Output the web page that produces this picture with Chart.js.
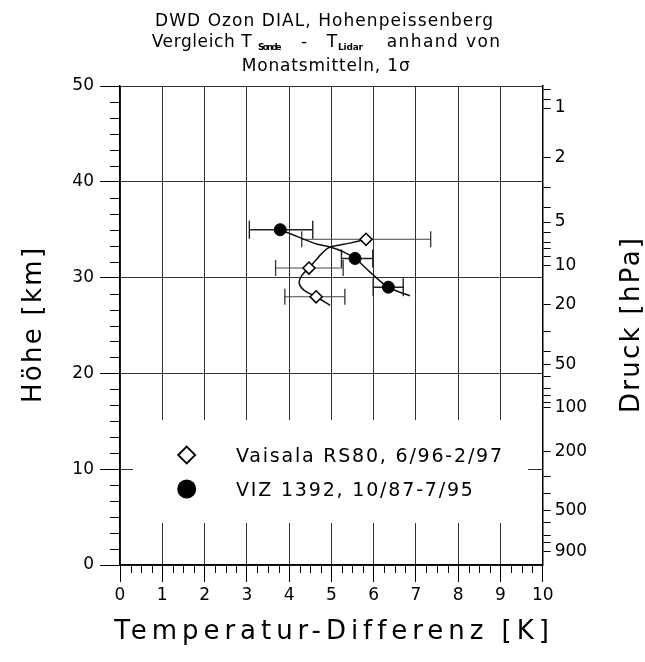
<!DOCTYPE html>
<html><head><meta charset="utf-8">
<script src="https://cdn.jsdelivr.net/npm/chart.js@4.4.1/dist/chart.umd.min.js"></script>
<style>html,body{margin:0;padding:0;background:#fff;}canvas{display:block;}</style>
</head><body>
<canvas id="c" width="645" height="662"></canvas>
<script>
// ---------------- data ----------------
const xTickValues = [0, 1, 2, 3, 4, 5, 6, 7, 8, 9, 10];
const heightTickValues = [0, 10, 20, 30, 40, 50];
const pressureTickLabels = ['1', '2', '5', '10', '20', '50', '100', '200', '500', '900'];
const pressureTickKm = [47.7, 42.5, 35.8, 31.3, 27.2, 20.9, 16.4, 11.8, 5.7, 1.4];
const pressureMinorKm = [49.6, 48.6, 39.4, 37.3, 34.7, 33.7, 33.0, 32.2, 24.4, 22.3, 19.7, 18.4, 17.7, 17.0, 9.2, 7.5, 4.4, 3.1, 2.3];

// Vaisala RS80 (diamonds)
const rs80Height = [34, 31, 28];
const rs80Diff = [5.82, 4.47, 4.64];
const rs80Lo = [4.30, 3.68, 3.90];
const rs80Hi = [7.35, 5.28, 5.32];
// VIZ 1392 (filled circles)
const vizHeight = [35, 32, 29];
const vizDiff = [3.79, 5.56, 6.35];
const vizLo = [3.06, 5.24, 5.99];
const vizHi = [4.56, 5.98, 6.70];

// fitted curves
const rs80CurveX = [5.82, 5.44, 5.13, 4.93, 4.77, 4.61, 4.47, 4.30, 4.24, 4.35, 4.64, 4.97];
const rs80CurveY = [34.0, 33.6, 33.35, 33.1, 32.5, 31.7, 31.0, 30.2, 29.4, 28.7, 28.0, 27.1];
const vizCurveX = [3.79, 4.30, 4.65, 4.97, 5.28, 5.56, 5.91, 6.35, 6.86];
const vizCurveY = [35.0, 34.1, 33.5, 33.2, 32.7, 32.0, 30.6, 29.0, 28.1];

const legendLabels = ['Vaisala RS80, 6/96-2/97', 'VIZ 1392, 10/87-7/95'];
const titleLine1 = 'DWD Ozon DIAL, Hohenpeissenberg';
const titleLine3 = 'Monatsmitteln, 1σ';
const xTitle = 'Temperatur-Differenz [K]';
const yTitle = 'Höhe [km]';
const y2Title = 'Druck [hPa]';

// ---------------- helpers ----------------
const FONT = '"DejaVu Sans", sans-serif';
const hasLS = 'letterSpacing' in CanvasRenderingContext2D.prototype;
function fitText(ctx, text, left, baseline, width, font) {
  ctx.save();
  ctx.font = font;
  if (hasLS) ctx.letterSpacing = '0px';
  const w0 = ctx.measureText(text).width;
  const n = [...text].length;
  if (hasLS && n > 1) ctx.letterSpacing = ((width - w0) / (n - 1)).toFixed(2) + 'px';
  ctx.textAlign = 'left';
  ctx.textBaseline = 'alphabetic';
  ctx.fillStyle = '#000';
  ctx.fillText(text, left, baseline);
  ctx.restore();
}
function fitTextRot(ctx, text, cx, baselineX, width, font) {
  ctx.save();
  ctx.translate(baselineX, cx);
  ctx.rotate(-Math.PI / 2);
  fitText(ctx, text, -width / 2, 0, width, font);
  ctx.restore();
}
function errData(lo, hi, h) {
  const out = [];
  lo.forEach((v, i) => { out.push({x: v, y: h[i]}, {x: hi[i], y: h[i]}, {x: null, y: null}); });
  return out;
}
function curveData(xs, ys) { return xs.map((v, i) => ({x: v, y: ys[i]})); }

const decor = {
  id: 'decor',
  afterDatasetsDraw(chart) {
    const {ctx, chartArea: ca, scales} = chart;
    const xs = scales.x, ys = scales.y;
    ctx.save();
    ctx.strokeStyle = '#000';
    ctx.lineWidth = 1;
    ctx.beginPath();
    for (let k = 1; k < 30; k++) {
      if (k % 6 === 0) continue;
      const py = Math.round(ys.getPixelForValue(k * 5 / 3)) + 0.5;
      ctx.moveTo(ca.left - 10, py); ctx.lineTo(ca.left, py);
    }
    for (let k = 1; k < 40; k++) {
      if (k % 4 === 0) continue;
      const px = Math.round(xs.getPixelForValue(k / 4)) + 0.5;
      ctx.moveTo(px, ca.bottom); ctx.lineTo(px, ca.bottom + 8);
    }
    ctx.stroke();
    // legend box (covers the grid)
    ctx.fillStyle = '#fff';
    ctx.fillRect(133, 420, 395, 103);
    // legend markers
    ctx.lineWidth = 1.8;
    ctx.strokeStyle = '#000';
    ctx.beginPath();
    const dx = 186.7, dy = 455, r = 8.5;
    ctx.moveTo(dx - r, dy); ctx.lineTo(dx, dy - r); ctx.lineTo(dx + r, dy); ctx.lineTo(dx, dy + r); ctx.closePath();
    ctx.fillStyle = '#fff'; ctx.fill(); ctx.stroke();
    ctx.beginPath();
    ctx.arc(186.7, 489, 9.5, 0, Math.PI * 2);
    ctx.fillStyle = '#000'; ctx.fill();
    ctx.restore();
    fitText(ctx, legendLabels[0], 236, 462, 266, '19px ' + FONT);
    fitText(ctx, legendLabels[1], 236, 495.5, 237, '19px ' + FONT);
  },
  afterDraw(chart) {
    const ctx = chart.ctx;
    const f = '17px ' + FONT, fs = 'bold 9px ' + FONT;
    fitText(ctx, titleLine1, 155, 26, 338, f);
    fitText(ctx, 'Vergleich T', 151.7, 46.5, 100, f);
    fitText(ctx, 'Sonde', 258, 50, 23.7, fs);
    fitText(ctx, '-', 301, 46.5, 10, f);
    fitText(ctx, 'T', 326.7, 46.5, 10, f);
    fitText(ctx, 'Lidar', 338, 50, 25, fs);
    fitText(ctx, 'anhand von', 386.7, 46.5, 113.3, f);
    fitText(ctx, titleLine3, 241.7, 71, 168, f);
    const ca = chart.chartArea;
    const cx = (ca.left + ca.right) / 2, cy = (ca.top + ca.bottom) / 2;
    fitText(ctx, xTitle, cx - 217, 639, 434, '26px ' + FONT);
    fitTextRot(ctx, yTitle, cy, 41, 155, '26px ' + FONT);
    fitTextRot(ctx, y2Title, cy, 639, 175, '26px ' + FONT);
  }
};

Chart.defaults.font.family = FONT;
Chart.defaults.color = '#000';

new Chart(document.getElementById('c'), {
  type: 'scatter',
  data: {
    datasets: [
      { label: 'RS80', data: curveData(rs80Diff, rs80Height), pointStyle: 'rectRot', pointRadius: 6,
        pointBackgroundColor: '#fff', pointBorderColor: '#000', pointBorderWidth: 1.6, showLine: false },
      { label: 'VIZ', data: curveData(vizDiff, vizHeight), pointStyle: 'circle', pointRadius: 6,
        pointBackgroundColor: '#000', pointBorderColor: '#000', pointBorderWidth: 1, showLine: false },
      { label: 'RS80 fit', data: curveData(rs80CurveX, rs80CurveY), showLine: true, tension: 0.4,
        pointRadius: 0, borderColor: '#111', borderWidth: 1.5 },
      { label: 'VIZ fit', data: curveData(vizCurveX, vizCurveY), showLine: true, tension: 0.4,
        pointRadius: 0, borderColor: '#111', borderWidth: 1.5 },
      { label: 'RS80 err', data: errData(rs80Lo, rs80Hi, rs80Height), showLine: true, spanGaps: false,
        borderColor: '#444', borderWidth: 1, pointStyle: 'line', rotation: 90, pointRadius: 8,
        pointBorderColor: '#333', pointBorderWidth: 1.3 },
      { label: 'VIZ err', data: errData(vizLo, vizHi, vizHeight), showLine: true, spanGaps: false,
        borderColor: '#222', borderWidth: 1.4, pointStyle: 'line', rotation: 90, pointRadius: 9,
        pointBorderColor: '#222', pointBorderWidth: 1.4 }
    ]
  },
  options: {
    responsive: false,
    animation: false,
    layout: { padding: { top: 86, left: 0, right: 0, bottom: 0 } },
    plugins: { legend: { display: false }, tooltip: { enabled: false }, title: { display: false } },
    scales: {
      x: {
        type: 'linear', position: 'bottom', min: 0, max: 10,
        afterBuildTicks: s => { s.ticks = xTickValues.map(v => ({value: v})); },
        ticks: { autoSkip: false, maxRotation: 0, padding: 3, font: { size: 17 }, color: '#000' },
        grid: { color: '#333', lineWidth: 1, tickLength: 17, tickColor: '#000', tickWidth: 1 },
        border: { color: '#000', width: 1.5 },
        afterFit: s => { s.height = 97; }
      },
      y: {
        type: 'linear', position: 'left', min: 0, max: 50,
        afterBuildTicks: s => { s.ticks = heightTickValues.map(v => ({value: v})); },
        ticks: { autoSkip: false, padding: 6, font: { size: 17 }, color: '#000' },
        grid: { color: '#333', lineWidth: 1, tickLength: 20, tickColor: '#000', tickWidth: 1 },
        border: { color: '#000', width: 1.5 },
        afterFit: s => { s.width = 120; }
      },
      y2: {
        type: 'linear', position: 'right', min: 0, max: 50,
        afterBuildTicks: s => {
          s.ticks = pressureTickKm.concat(pressureMinorKm).sort((a, b) => a - b).map(v => ({value: v}));
        },
        ticks: {
          autoSkip: false, padding: 4, font: { size: 17 }, color: '#000',
          callback: v => { const i = pressureTickKm.indexOf(v); return i >= 0 ? pressureTickLabels[i] : ''; }
        },
        grid: { drawOnChartArea: false, tickLength: 8, tickColor: '#000', tickWidth: 1 },
        border: { color: '#000', width: 1.5 },
        afterFit: s => { s.width = 645 - 542.7; }
      }
    }
  },
  plugins: [decor]
});
</script>
</body></html>
